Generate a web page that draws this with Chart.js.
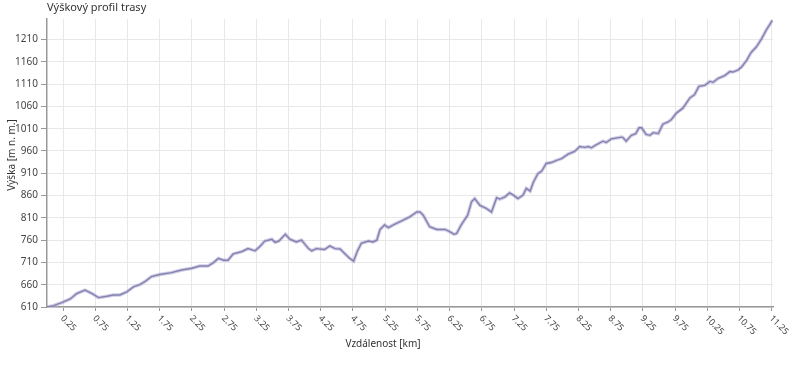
<!DOCTYPE html>
<html>
<head>
<meta charset="utf-8">
<script src="https://cdn.jsdelivr.net/npm/chart.js@4/dist/chart.umd.min.js"></script>
<style>
html,body{margin:0;padding:0;background:#fff;}
#c{display:block;}
</style>
</head>
<body>
<canvas id="c" width="800" height="367"></canvas>
<script>
const chartTitle = "Výškový profil trasy";
const xAxisTitle = "Vzdálenost [km]";
const yAxisTitle = "Výška [m n. m.]";

const distanceKm = [
  0.00,0.10,0.23,0.36,0.46,0.59,0.70,0.80,0.93,1.03,1.13,1.24,1.34,1.44,1.52,1.62,1.75,1.93,2.09,2.25,
  2.37,2.50,2.58,2.66,2.74,2.81,2.89,3.02,3.12,3.23,3.30,3.38,3.49,3.54,3.60,3.64,3.70,3.77,3.87,3.95,
  4.06,4.11,4.18,4.31,4.39,4.47,4.55,4.62,4.70,4.76,4.82,4.88,4.99,5.06,5.12,5.17,5.24,5.30,5.40,5.53,
  5.63,5.74,5.79,5.84,5.94,6.05,6.18,6.25,6.32,6.36,6.43,6.53,6.59,6.64,6.72,6.82,6.90,6.98,7.03,7.11,
  7.18,7.24,7.31,7.39,7.44,7.50,7.55,7.62,7.68,7.75,7.83,7.91,7.99,8.09,8.19,8.27,8.35,8.40,8.45,8.53,
  8.63,8.68,8.76,8.92,8.94,8.99,9.07,9.14,9.19,9.23,9.30,9.36,9.41,9.49,9.56,9.64,9.69,9.77,9.87,9.98,
  10.05,10.12,10.21,10.29,10.34,10.42,10.52,10.60,10.65,10.73,10.78,10.86,10.93,11.01,11.09,11.16,11.26
];
const elevationM = [
  610,613,620,628,640,648,640,631,634,637,637,644,655,660,667,678,683,687,693,697,
  702,702,709,719,715,715,729,734,741,736,745,758,762,755,758,764,773,762,756,760,
  741,736,741,739,747,741,740,730,719,713,736,753,758,756,760,784,794,788,796,805,
  812,823,823,816,790,784,784,779,773,775,794,816,846,853,838,831,823,855,852,857,
  866,861,853,861,876,870,890,909,915,932,934,939,943,953,959,970,968,970,967,974,
  982,979,987,991,990,982,995,999,1012,1012,997,995,1001,999,1020,1025,1030,1045,1056,1079,
  1086,1105,1107,1116,1114,1123,1129,1138,1137,1142,1148,1163,1181,1193,1211,1230,1253
];
const xTickValues = [0.25,0.75,1.25,1.75,2.25,2.75,3.25,3.75,4.25,4.75,5.25,5.75,6.25,6.75,7.25,7.75,8.25,8.75,9.25,9.75,10.25,10.75,11.25];
const yTickValues = [610,660,710,760,810,860,910,960,1010,1060,1110,1160,1210];

const points = distanceKm.map((d,i)=>({x:d, y:elevationM[i]}));
const FONT = "'Noto Sans', 'Open Sans', sans-serif";

const textPlugin = {
  id: 'texts',
  afterDraw(chart){
    const ctx = chart.ctx;
    const xs = chart.scales.x;
    ctx.save();
    ctx.fillStyle = '#333';
    ctx.font = '11px ' + FONT;
    ctx.textAlign = 'left';
    ctx.textBaseline = 'middle';
    ctx.fillText(chartTitle, 47, 8);
    ctx.font = '10px ' + FONT;
    ctx.textAlign = 'center';
    ctx.fillText(xAxisTitle, 383, 344);
    ctx.save();
    ctx.translate(12, 155);
    ctx.rotate(-Math.PI/2);
    ctx.fillText(yAxisTitle, 0, 0);
    ctx.restore();
    ctx.font = '9px ' + FONT;
    ctx.fillStyle = '#444';
    ctx.textAlign = 'left';
    ctx.textBaseline = 'middle';
    xTickValues.forEach(v=>{
      const px = xs.getPixelForValue(v);
      ctx.save();
      ctx.translate(px - 1, 317);
      ctx.rotate(Math.PI/4);
      ctx.fillText(String(v), 0, 0);
      ctx.restore();
    });
    ctx.restore();
  }
};

new Chart(document.getElementById('c'), {
  type: 'line',
  data: {
    datasets: [
      {data: points, borderColor: 'rgba(160,156,205,0.5)', borderWidth: 3.5, pointRadius: 0, tension: 0, fill: false},
      {data: points, borderColor: '#6c6892', borderWidth: 1.4, pointRadius: 0, tension: 0, fill: false}
    ]
  },
  options: {
    responsive: false,
    animation: false,
    devicePixelRatio: 1,
    layout: {padding: {top: 19, right: 27, left: 0, bottom: 0}},
    plugins: {legend: {display: false}, tooltip: {enabled: false}, title: {display: false}},
    scales: {
      x: {
        type: 'linear', min: 0, max: 11.27,
        afterBuildTicks: s => { s.ticks = xTickValues.map(v=>({value:v})); },
        afterFit: s => { s.height = 60; },
        grid: {color: '#e8e8e8', lineWidth: 1, tickColor: '#999', tickLength: 4},
        border: {color: '#999', width: 1.5},
        ticks: {color: 'rgba(0,0,0,0)', maxRotation: 0, autoSkip: false, font: {size: 9}}
      },
      y: {
        type: 'linear', min: 610, max: 1256,
        afterBuildTicks: s => { s.ticks = yTickValues.map(v=>({value:v})); },
        afterFit: s => { s.width = 47; },
        grid: {color: '#e8e8e8', lineWidth: 1, tickColor: '#999', tickLength: 6},
        border: {color: '#999', width: 1.5},
        ticks: {color: '#444', padding: 3, font: {size: 10, family: FONT}, callback: v => String(v)}
      }
    }
  },
  plugins: [textPlugin]
});
</script>
</body>
</html>
